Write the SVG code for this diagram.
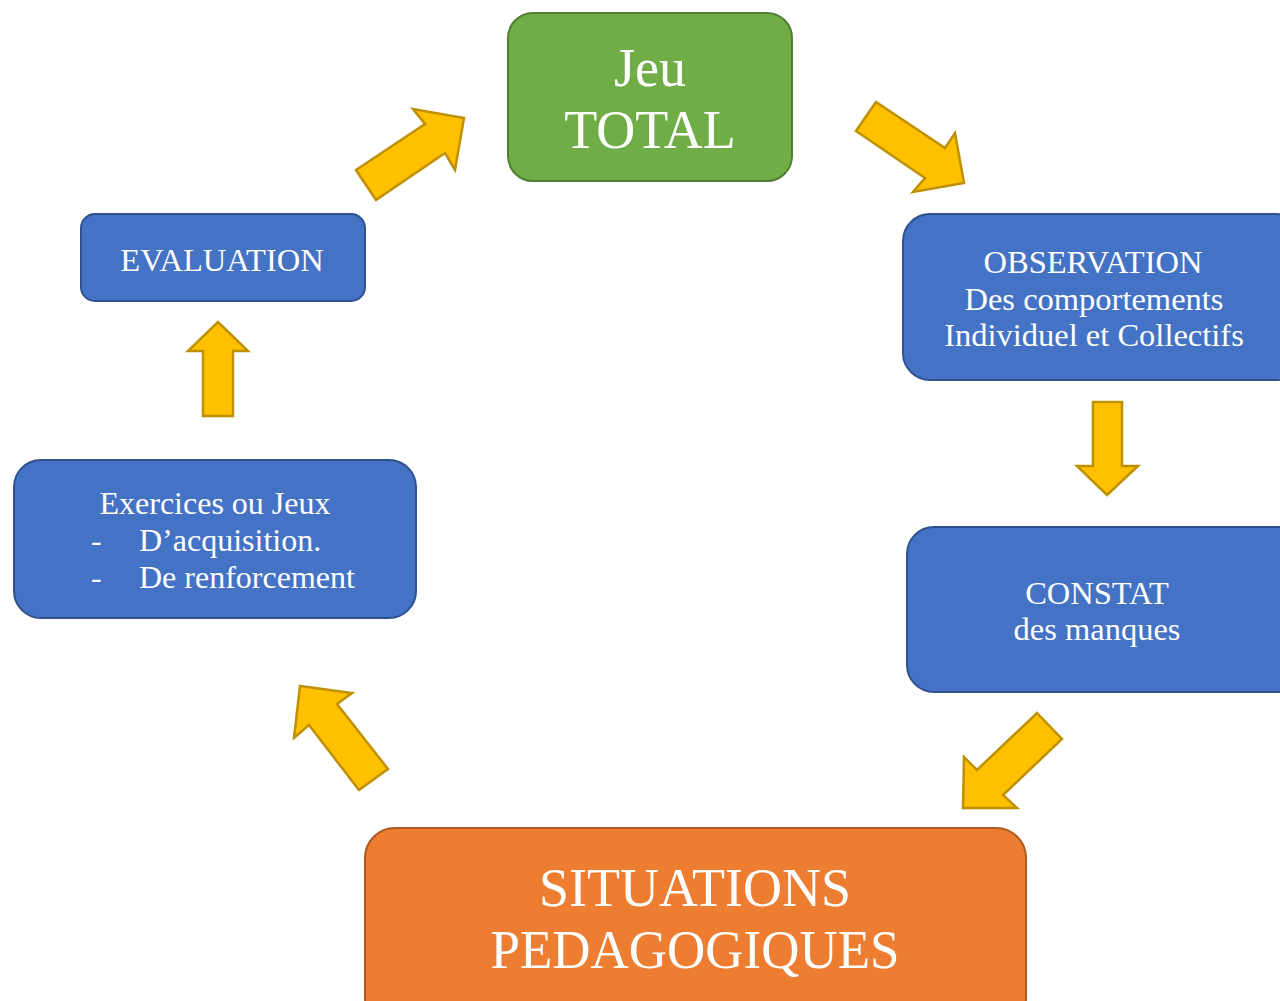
<svg xmlns="http://www.w3.org/2000/svg" width="1280" height="1001" viewBox="0 0 1280 1001">
<style>
.blue{fill:#4472C4;stroke:#2F528F;stroke-width:2}
.green{fill:#70AD47;stroke:#507E32;stroke-width:2}
.orange{fill:#ED7D31;stroke:#AE5A21;stroke-width:2}
.t{font-family:"Liberation Serif","Times New Roman",serif;fill:#fff}
.m{text-anchor:middle}
.s{font-size:32.5px}
.arrow{fill:#FFC000;stroke:#BF9000;stroke-width:2.5;stroke-linejoin:miter}
</style>
<rect width="1280" height="1001" fill="#fff"/>
<g id="connectors">
<polygon class="arrow" points="356,170 425,124 413,109 464,118 455,170 445,153 376,200"/>
<polygon class="arrow" points="876,102 945,148 955,133 964,183 913,192 925,178 856,131"/>
<polygon class="arrow" points="1093,402 1122,402 1122,466 1138,466 1107,495 1077,466 1093,466"/>
<polygon class="arrow" points="1037,713 1062,739 1003,795 1017,808 963,808 964,757 977,770"/>
<polygon class="arrow" points="388,769 337,704 352,693 300,686 294,738 309,725 359,790"/>
<polygon class="arrow" points="203,416 233,416 233,351 248,351 218,322 188,351 203,351"/>
</g>
<g id="jeu-total">
<rect class="green" x="508" y="13" width="284" height="168" rx="25"/>
<text class="t m" x="650" y="86" font-size="54">Jeu</text>
<text class="t m" x="650" y="148" font-size="54">TOTAL</text>
</g>
<g id="observation">
<rect class="blue" x="903" y="214" width="400" height="166" rx="27"/>
<text class="t m s" x="1093" y="273">OBSERVATION</text>
<text class="t m s" x="1094" y="310">Des comportements</text>
<text class="t m s" x="1094" y="346">Individuel et Collectifs</text>
</g>
<g id="constat">
<rect class="blue" x="907" y="527" width="400" height="165" rx="27"/>
<text class="t m s" x="1097" y="604">CONSTAT</text>
<text class="t m s" x="1097" y="640">des manques</text>
</g>
<g id="situations">
<rect class="orange" x="365" y="828" width="661" height="200" rx="30"/>
<text class="t m" x="695" y="906" font-size="55" textLength="312" lengthAdjust="spacingAndGlyphs">SITUATIONS</text>
<text class="t m" x="695" y="968" font-size="55" textLength="409" lengthAdjust="spacingAndGlyphs">PEDAGOGIQUES</text>
</g>
<g id="exercices">
<rect class="blue" x="14" y="460" width="402" height="158" rx="27"/>
<text class="t m" x="215" y="514" font-size="32">Exercices ou Jeux</text>
<text class="t" x="91" y="551" font-size="32">-</text>
<text class="t" x="139" y="551" font-size="32">D’acquisition.</text>
<text class="t" x="91" y="588" font-size="32">-</text>
<text class="t" x="139" y="588" font-size="32">De renforcement</text>
</g>
<g id="evaluation">
<rect class="blue" x="81" y="214" width="284" height="87" rx="14"/>
<text class="t m s" x="222" y="271">EVALUATION</text>
</g>
</svg>
